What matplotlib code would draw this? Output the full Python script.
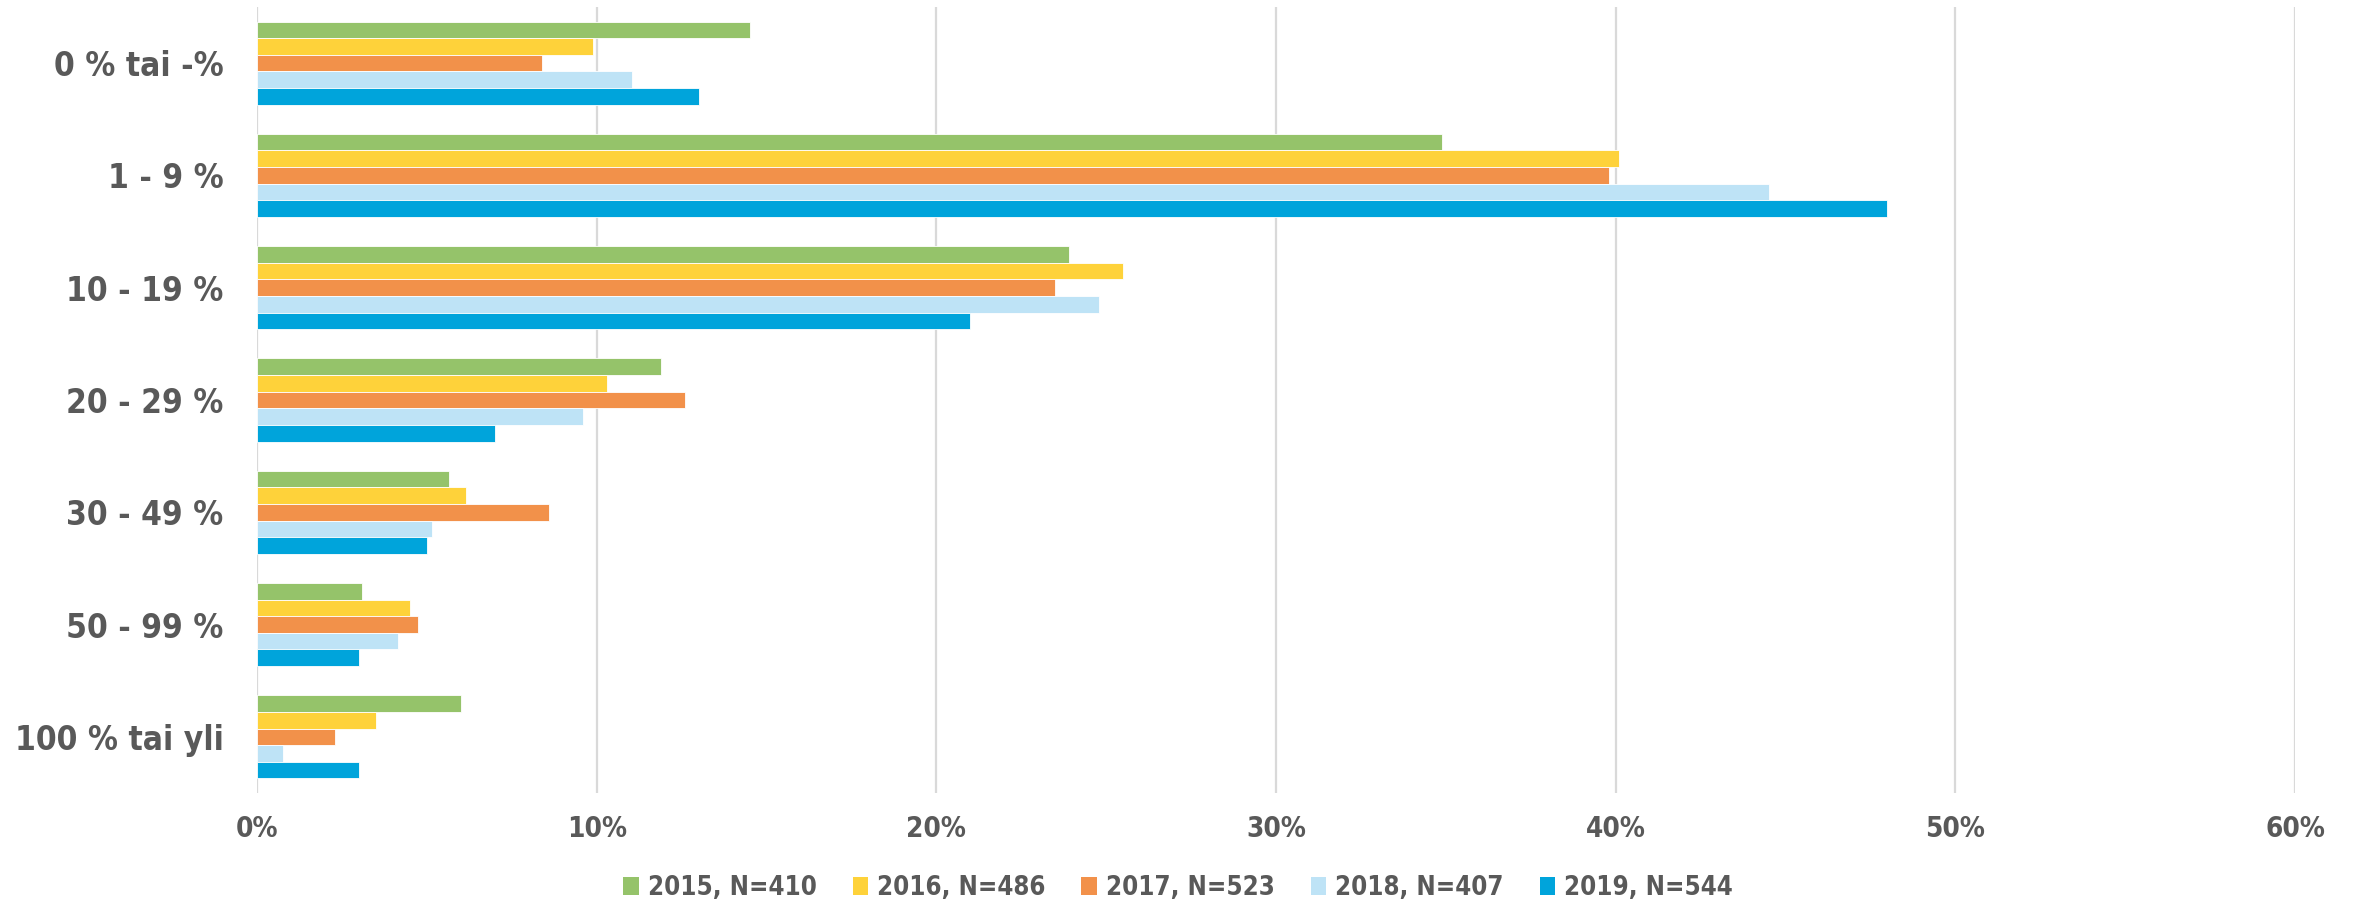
import matplotlib
matplotlib.use("Agg")
import matplotlib.pyplot as plt
import numpy as np
from matplotlib.patches import Patch
from matplotlib.ticker import FuncFormatter, MultipleLocator

categories = ["0 % tai -%", "1 - 9 %", "10 - 19 %", "20 - 29 %", "30 - 49 %", "50 - 99 %", "100 % tai yli"]
series_names = ["2015, N=410", "2016, N=486", "2017, N=523", "2018, N=407", "2019, N=544"]
v2015 = [14.5, 34.9, 23.9, 11.9, 5.65, 3.1, 6.0]
v2016 = [9.9, 40.1, 25.5, 10.3, 6.15, 4.5, 3.5]
v2017 = [8.4, 39.8, 23.5, 12.6, 8.6, 4.75, 2.3]
v2018 = [11.05, 44.5, 24.8, 9.6, 5.15, 4.15, 0.75]
v2019 = [13.0, 48.0, 21.0, 7.0, 5.0, 3.0, 3.0]
colors = ["#95C36A", "#FED23A", "#F2914A", "#BEE3F6", "#00A4DB"]

plt.rcParams['font.family'] = ['DejaVu Sans']
plt.rcParams['font.stretch'] = 'condensed'
plt.rcParams['font.weight'] = 'bold'
text_color = "#595959"

fig = plt.figure(figsize=(23.56, 9.07), dpi=100)
ax = fig.add_axes([0.1091, 0.1257, 0.8650, 0.8666])

all_series = [v2015, v2016, v2017, v2018, v2019]
n = len(all_series)
h = 0.148
y = np.arange(len(categories))
for j, (vals, c, name) in enumerate(zip(all_series, colors, series_names)):
    ax.barh(y + (j - (n - 1) / 2) * h, vals, height=h, color=c,
            edgecolor="white", linewidth=0.6, label=name, zorder=3)

ax.set_ylim(len(categories) - 0.5, -0.5)
ax.set_xlim(0, 60)
ax.xaxis.set_major_locator(MultipleLocator(10))
ax.xaxis.set_major_formatter(FuncFormatter(lambda v, p: f"{int(round(v))}%"))
ax.set_yticks(y)
ax.set_yticklabels(categories)
ax.grid(axis='x', color="#D9D9D9", linewidth=1.6, zorder=0)
for s in ax.spines.values():
    s.set_visible(False)
ax.tick_params(axis='both', length=0, colors=text_color)
ax.tick_params(axis='y', labelsize=24, pad=24)
ax.tick_params(axis='x', labelsize=20, pad=16)
for lab in ax.get_xticklabels() + ax.get_yticklabels():
    lab.set_fontweight('bold')
    lab.set_color(text_color)

handles = [Patch(facecolor=c, edgecolor='none') for c in colors]
leg = fig.legend(handles, series_names, loc='center', bbox_to_anchor=(0.5, 0.021),
                 ncol=5, frameon=False, fontsize=18.5, handlelength=0.6, handleheight=0.75,
                 handletextpad=0.35, columnspacing=1.4)
for t in leg.get_texts():
    t.set_color(text_color)
    t.set_fontweight('bold')

fig.savefig("out.png", dpi=100)
